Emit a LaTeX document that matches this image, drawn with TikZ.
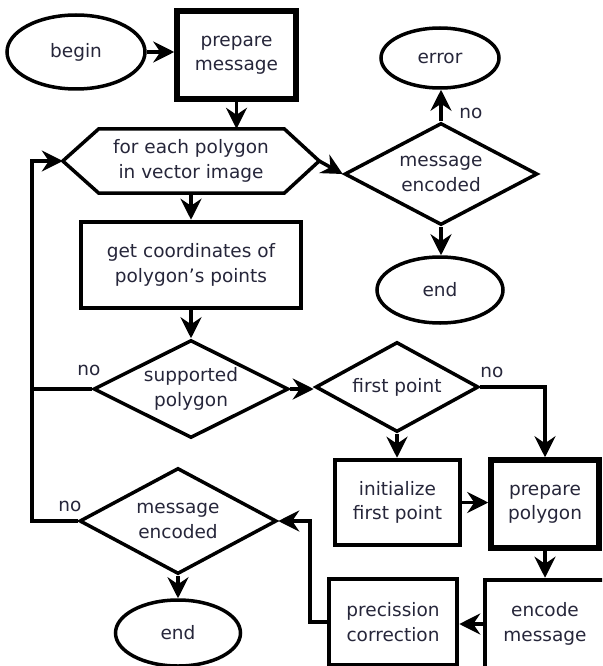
\documentclass[tikz,border=0pt]{standalone}
\usepackage{fontspec}
\setmainfont{DejaVu Sans}
\usetikzlibrary{shapes.geometric,arrows.meta,calc}
\definecolor{txt}{RGB}{38,38,58}
\begin{document}
\begin{tikzpicture}[x=1pt,y=-1pt,
  every node/.style={font=\fontsize{18.5}{24.5}\selectfont, text=txt, align=center, inner sep=0pt},
  term/.style={ellipse, draw, line width=3.5pt},
  proc/.style={rectangle, draw, line width=4.5pt},
  thickproc/.style={rectangle, draw, line width=5.5pt},
  dec/.style={diamond, draw, line width=3.5pt, shape aspect=2},
  conn/.style={line width=3.5pt, -{Stealth[length=21pt,width=21pt,inset=7pt]}},
  plainline/.style={line width=3.5pt},
  lbl/.style={}]
\useasboundingbox (0,0) rectangle (602,666);
\clip (0,0) rectangle (602,666);

% nodes
\node[term, minimum width=138pt, minimum height=74pt] (begin) at (76,52) {begin};
\node[thickproc, minimum width=119pt, minimum height=88pt] (prep) at (236.5,55) {prepare\\message};
\node[minimum width=256pt, minimum height=64pt] (hex) at (191,161) {for each polygon\\in vector image};
\draw[line width=3.5pt] (hex.west) -- ([xshift=36pt]hex.north west) -- ([xshift=-35pt]hex.north east)
  -- (hex.east) -- ([xshift=-35pt]hex.south east) -- ([xshift=36pt]hex.south west) -- cycle;
\node[dec, minimum width=193pt, minimum height=102pt] (menc1) at (441,174) {message\\encoded};
\node[term, minimum width=118pt, minimum height=60pt] (err) at (440,58) {error};
\node[term, minimum width=126pt, minimum height=66pt] (end1) at (440,290) {end};
\node[proc, minimum width=220pt, minimum height=86pt] (coord) at (191,265) {get coordinates of\\polygon's points};
\node[dec, minimum width=195pt, minimum height=98pt] (supp) at (191,389) {supported\\polygon};
\node[dec, minimum width=163pt, minimum height=90pt] (first) at (397,387) {first point};
\node[proc, minimum width=125pt, minimum height=85pt] (init) at (397.5,502.5) {initialize\\first point};
\node[thickproc, minimum width=108pt, minimum height=88pt] (ppoly) at (545,504) {prepare\\polygon};
\node[proc, minimum width=120pt, minimum height=88pt] (enc) at (545,624) {encode\\message};
\node[proc, minimum width=128pt, minimum height=86pt] (prec) at (393,622) {precission\\correction};
\node[dec, minimum width=197pt, minimum height=106pt] (menc2) at (178,521) {message\\encoded};
\node[term, minimum width=125pt, minimum height=66pt] (end2) at (178,633) {end};

% helper coordinates
\coordinate (lx) at (32,0);
\coordinate (rx) at (310,0);

% connectors
\draw[conn] (begin.east) -- (begin.east -| prep.west);
\draw[conn] (prep.south) -- (prep.south |- hex.north);
\draw[conn] (hex.east) -- (menc1.west);
\draw[conn] (menc1.north) -- (menc1.north |- err.south);
\draw[conn] (menc1.south) -- (menc1.south |- end1.north);
\draw[conn] (hex.south) -- (coord.north);
\draw[conn] (coord.south) -- (supp.north);
\draw[conn] (supp.east) -- (supp.east -| first.west);
\draw[conn] (first.south) -- (first.south |- init.north);
\draw[conn] (first.east) -| (ppoly.north);
\draw[conn] (init.east) -- (init.east -| ppoly.west);
\draw[conn] (ppoly.south) -- (enc.north);
\draw[conn] (enc.west) -- (enc.west -| prec.east);
\draw[conn] (prec.west) -- (prec.west -| rx) |- (menc2.east);
\draw[conn] (menc2.south) -- (end2.north);
\draw[plainline] (supp.west) -- (supp.west -| lx);
\draw[conn] (menc2.west) -- (menc2.west -| lx) |- (hex.west);

% labels
\node[lbl] (no1) at (471,113) {no};
\node[lbl] (no2) at (492,372) {no};
\node[lbl] (no3) at (89,370) {no};
\node[lbl] (no4) at (70,506) {no};
\end{tikzpicture}
\end{document}
